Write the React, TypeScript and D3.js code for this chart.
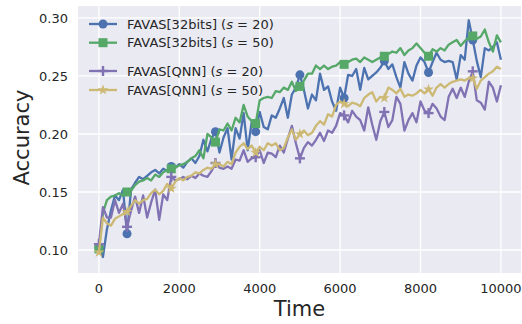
import React from 'react';
import * as d3 from 'd3';

// sample times (every 100 time units)
const TIME = [
  0, 100, 200, 300, 400, 500, 600, 700, 800, 900,
  1000, 1100, 1200, 1300, 1400, 1500, 1600, 1700, 1800, 1900,
  2000, 2100, 2200, 2300, 2400, 2500, 2600, 2700, 2800, 2900,
  3000, 3100, 3200, 3300, 3400, 3500, 3600, 3700, 3800, 3900,
  4000, 4100, 4200, 4300, 4400, 4500, 4600, 4700, 4800, 4900,
  5000, 5100, 5200, 5300, 5400, 5500, 5600, 5700, 5800, 5900,
  6000, 6100, 6200, 6300, 6400, 6500, 6600, 6700, 6800, 6900,
  7000, 7100, 7200, 7300, 7400, 7500, 7600, 7700, 7800, 7900,
  8000, 8100, 8200, 8300, 8400, 8500, 8600, 8700, 8800, 8900,
  9000, 9100, 9200, 9300, 9400, 9500, 9600, 9700, 9800, 9900,
  10000,
];

const FULL_S20 = [
  0.102, 0.094, 0.118, 0.134, 0.147, 0.143, 0.152, 0.114, 0.152, 0.158,
  0.163, 0.161, 0.164, 0.167, 0.169, 0.166, 0.170, 0.168, 0.172, 0.171,
  0.174, 0.171, 0.176, 0.179, 0.175, 0.181, 0.195, 0.185, 0.196, 0.202,
  0.184, 0.197, 0.205, 0.178, 0.205, 0.196, 0.218, 0.186, 0.210, 0.202,
  0.219, 0.206, 0.204, 0.216, 0.214, 0.222, 0.231, 0.214, 0.234, 0.240,
  0.251, 0.238, 0.222, 0.234, 0.229, 0.252, 0.238, 0.241, 0.228, 0.220,
  0.240, 0.231, 0.251, 0.250, 0.256, 0.238, 0.257, 0.247, 0.250, 0.253,
  0.257, 0.263, 0.256, 0.260, 0.249, 0.240, 0.262, 0.252, 0.246, 0.259,
  0.266, 0.262, 0.253, 0.262, 0.270, 0.264, 0.262, 0.263, 0.262, 0.247,
  0.268, 0.264, 0.298, 0.281, 0.263, 0.249, 0.274, 0.272, 0.275, 0.279,
  0.264,
];

const FULL_S50 = [
  0.101, 0.132, 0.143, 0.146, 0.147, 0.149, 0.147, 0.150, 0.151, 0.156,
  0.159, 0.160, 0.162, 0.160, 0.165, 0.163, 0.167, 0.169, 0.170, 0.171,
  0.173, 0.174, 0.176, 0.179, 0.181, 0.186, 0.179, 0.200, 0.197, 0.193,
  0.204, 0.203, 0.209, 0.203, 0.214, 0.210, 0.225, 0.215, 0.211, 0.209,
  0.229, 0.231, 0.232, 0.231, 0.237, 0.236, 0.240, 0.238, 0.245, 0.237,
  0.241, 0.246, 0.252, 0.252, 0.259, 0.256, 0.259, 0.256, 0.258, 0.259,
  0.262, 0.260, 0.262, 0.264, 0.265, 0.262, 0.266, 0.264, 0.262, 0.264,
  0.266, 0.267, 0.269, 0.271, 0.270, 0.274, 0.268, 0.272, 0.274, 0.278,
  0.274, 0.270, 0.267, 0.273, 0.271, 0.274, 0.272, 0.277, 0.279, 0.281,
  0.276, 0.280, 0.283, 0.2845, 0.282, 0.284, 0.290, 0.279, 0.271, 0.285,
  0.279,
];

const QNN_S20 = [
  0.105, 0.137, 0.128, 0.128, 0.143, 0.132, 0.140, 0.120, 0.134, 0.146,
  0.132, 0.147, 0.128, 0.141, 0.152, 0.126, 0.148, 0.143, 0.163, 0.160,
  0.161, 0.163, 0.161, 0.164, 0.162, 0.166, 0.164, 0.163, 0.168, 0.175,
  0.171, 0.170, 0.172, 0.170, 0.178, 0.177, 0.186, 0.176, 0.179, 0.180,
  0.186, 0.175, 0.184, 0.183, 0.180, 0.190, 0.184, 0.196, 0.207, 0.192,
  0.179, 0.188, 0.193, 0.190, 0.195, 0.201, 0.194, 0.203, 0.201, 0.207,
  0.218, 0.216, 0.210, 0.220, 0.215, 0.212, 0.203, 0.223, 0.208, 0.195,
  0.211, 0.219, 0.206, 0.212, 0.232, 0.226, 0.203, 0.212, 0.218, 0.210,
  0.228, 0.220, 0.218, 0.226, 0.222, 0.215, 0.212, 0.232, 0.239, 0.231,
  0.240, 0.232, 0.245, 0.254, 0.229, 0.227, 0.221, 0.245, 0.240, 0.228,
  0.242,
];

const QNN_S50 = [
  0.098, 0.128, 0.123, 0.121, 0.127, 0.129, 0.131, 0.133, 0.138, 0.143,
  0.140, 0.143, 0.144, 0.149, 0.152, 0.148, 0.151, 0.157, 0.153, 0.159,
  0.162, 0.160, 0.163, 0.164, 0.167, 0.166, 0.169, 0.171, 0.170, 0.174,
  0.174, 0.172, 0.176, 0.174, 0.184, 0.189, 0.192, 0.187, 0.190, 0.184,
  0.189, 0.186, 0.192, 0.190, 0.192, 0.186, 0.188, 0.197, 0.204, 0.195,
  0.200, 0.203, 0.199, 0.201, 0.207, 0.211, 0.208, 0.217, 0.215, 0.225,
  0.228, 0.226, 0.224, 0.227, 0.226, 0.224, 0.231, 0.234, 0.236, 0.228,
  0.232, 0.231, 0.240, 0.238, 0.235, 0.239, 0.232, 0.234, 0.233, 0.235,
  0.238, 0.235, 0.2385, 0.233, 0.240, 0.243, 0.240, 0.243, 0.245, 0.246,
  0.247, 0.246, 0.248, 0.248, 0.239, 0.246, 0.249, 0.252, 0.254, 0.258,
  0.256,
];

// indices where markers are drawn
const MARK_IDX = [0, 7, 18, 29, 39, 50, 61, 71, 82, 93];

const X_TICKS = [0, 2000, 4000, 6000, 8000, 10000];
const Y_TICKS = [0.10, 0.15, 0.20, 0.25, 0.30];

const SERIES = [
  { name: 'FAVAS[32bits]', s: '20', values: FULL_S20, color: '#4c72b0', marker: 'circle' },
  { name: 'FAVAS[32bits]', s: '50', values: FULL_S50, color: '#55a868', marker: 'square' },
  { name: 'FAVAS[QNN]', s: '20', values: QNN_S20, color: '#8172b3', marker: 'plus' },
  { name: 'FAVAS[QNN]', s: '50', values: QNN_S50, color: '#ccb974', marker: 'star' },
];

const W = 522;
const H = 324;
const m = { left: 78, right: 1, top: 6, bottom: 51 };
const TXT = '#262626';
const FONT = 'DejaVu Sans, sans-serif';

function Marker({ type, x, y, color }: { type: string; x: number; y: number; color: string }) {
  if (type === 'circle') return <circle cx={x} cy={y} r={4.5} fill={color} />;
  if (type === 'square') return <rect x={x - 4.5} y={y - 4.5} width={9} height={9} fill={color} />;
  if (type === 'plus')
    return (
      <g stroke={color} strokeWidth={2.4}>
        <line x1={x - 5} x2={x + 5} y1={y} y2={y} />
        <line x1={x} x2={x} y1={y - 5} y2={y + 5} />
      </g>
    );
  const star = d3.symbol().type(d3.symbolStar).size(36)();
  return <path d={star || ''} transform={`translate(${x},${y})`} fill={color} />;
}

export default function App() {
  const x = d3.scaleLinear().domain([-520, 10500]).range([m.left, W - m.right]);
  const y = d3.scaleLinear().domain([0.0802, 0.3103]).range([H - m.bottom, m.top]);
  const line = d3.line<number>().x((_, i) => x(TIME[i])).y(d => y(d));

  const legendY = [24, 42.7, 71, 90];

  return (
    <svg width={W} height={H} style={{ position: 'fixed', left: 0, top: 0 }} fontFamily={FONT}>
      <rect x={0} y={0} width={W} height={H} fill="#fff" />
      <rect x={m.left} y={m.top} width={W - m.right - m.left} height={H - m.bottom - m.top} fill="#eaeaf2" />
      {X_TICKS.map(t => (
        <line key={'gx' + t} x1={x(t)} x2={x(t)} y1={m.top} y2={H - m.bottom} stroke="#fff" strokeWidth={1.3} />
      ))}
      {Y_TICKS.map(t => (
        <line key={'gy' + t} x1={m.left} x2={W - m.right} y1={y(t)} y2={y(t)} stroke="#fff" strokeWidth={1.3} />
      ))}

      {SERIES.map((s, si) => (
        <g key={si}>
          <path d={line(s.values) || ''} fill="none" stroke={s.color} strokeWidth={2.3} strokeLinejoin="round" />
          {MARK_IDX.map(i => (
            <Marker key={i} type={s.marker} x={x(TIME[i])} y={y(s.values[i])} color={s.color} />
          ))}
        </g>
      ))}

      {/* tick labels */}
      {X_TICKS.map(t => (
        <text key={'tx' + t} x={x(t)} y={293} fontSize={13} fill={TXT} textAnchor="middle">{t}</text>
      ))}
      {Y_TICKS.map(t => (
        <text key={'ty' + t} x={68} y={y(t)} dy="0.35em" fontSize={13} fill={TXT} textAnchor="end">{d3.format('.2f')(t)}</text>
      ))}

      <text x={(m.left + W - m.right) / 2} y={316} fontSize={21} fill={TXT} textAnchor="middle">Time</text>
      <text transform="translate(28.5,137.5) rotate(-90)" fontSize={21} fill={TXT} textAnchor="middle">Accuracy</text>

      {/* legend */}
      {SERIES.map((s, i) => (
        <g key={'lg' + i}>
          <line x1={89} x2={117} y1={legendY[i]} y2={legendY[i]} stroke={s.color} strokeWidth={2.3} />
          <Marker type={s.marker} x={103} y={legendY[i]} color={s.color} />
          <text x={127} y={legendY[i]} dy="0.36em" fontSize={13} fill={TXT}>
            {s.name} (<tspan fontStyle="italic">s</tspan> = {s.s})
          </text>
        </g>
      ))}
    </svg>
  );
}
